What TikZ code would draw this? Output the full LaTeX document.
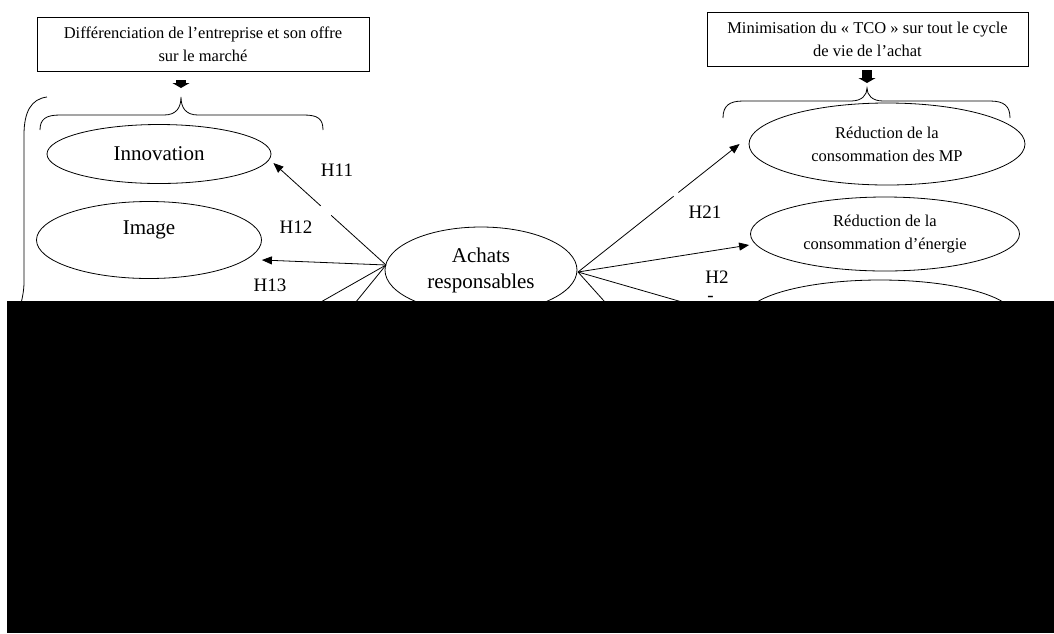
\documentclass[tikz,border=0pt]{standalone}
\usepackage{fontspec}
\setmainfont{Liberation Serif}
\usetikzlibrary{arrows.meta,shapes.geometric}

\begin{document}
\begin{tikzpicture}[x=1pt, y=-1pt, line width=0.8pt,
  bigtext/.style={font=\fontsize{21}{26}\selectfont},
  smalltext/.style={font=\fontsize{16.5}{23}\selectfont},
  hyptext/.style={font=\fontsize{19}{22}\selectfont},
  goalbox/.style={draw, smalltext, align=center, minimum height=54pt, inner sep=0pt},
  oval/.style={draw, ellipse, align=center, inner sep=0pt},
  hyparrow/.style={-{Triangle[length=10pt,width=8pt]}},
  blockarrow/.style={line width=10pt, -{Triangle[length=5pt,width=17pt]}}]
\useasboundingbox (0,0) rectangle (1054,633);
\node[goalbox, minimum width=332pt] (diff) at (203,44) {Différenciation de l’entreprise et son offre\\sur le marché};
\node[goalbox, minimum width=321pt] (tco) at (867.5,39) {Minimisation du «~TCO~» sur tout le cycle\\de vie de l’achat};
\coordinate (ltip) at (181,97);
\coordinate (rtip) at (867,88);
\draw[blockarrow, shorten <=9pt, shorten >=9pt] (ltip |- diff.south) -- (ltip);
\draw[blockarrow, shorten <=4pt, shorten >=5pt] (rtip |- tco.south) -- (rtip);
\draw (40,130) .. controls (40,119) and (46,115) .. (60,115) -- (164,115) .. controls (176,115) and (181,108) .. (ltip) .. controls (181,108) and (186,115) .. (198,115) -- (304,115) .. controls (318,115) and (323,119) .. (323,130);
\draw (723,118) .. controls (723,106) and (729,101) .. (743,101) -- (851,101) .. controls (862,101) and (867,95) .. (rtip) .. controls (867,95) and (872,101) .. (883,101) -- (990,101) .. controls (1004,101) and (1010,106) .. (1010,118);
\draw (47,97) .. controls (31,99) and (24,112) .. (24,135) -- (24,282) .. controls (24,292) and (22,300) .. (17,320);
\node[oval, bigtext, minimum width=224pt, minimum height=59pt] (innov) at (159,154) {Innovation};
\node[oval, bigtext, minimum width=225pt, minimum height=77pt] (image) at (149,240) {Image\\[-9pt]\strut};
\node[oval, bigtext, minimum width=192pt, minimum height=86pt] (achats) at (481,270) {Achats\\responsables};
\node[oval, smalltext, minimum width=276pt, minimum height=82pt] (mp) at (887,144) {Réduction de la\\consommation des MP};
\node[oval, smalltext, minimum width=269pt, minimum height=74pt] (energie) at (885,234) {Réduction de la\\consommation d’énergie};
\node[oval, minimum width=269pt, minimum height=74pt] (reduc3) at (880,317) {};
\coordinate (lhub) at (386,265);
\coordinate (rhub) at (578,272);
\coordinate (h13a) at (254,340);
\coordinate (h13b) at (325,340);
\coordinate (h22a) at (639,340);
\coordinate (h22b) at (814,340);
\draw[hyparrow, dash pattern=on 74pt off 14pt on 300pt] (lhub) -- ([xshift=2pt,yshift=-9pt]innov.east);
\draw[hyparrow] (lhub) -- ([yshift=-20pt]image.east);
\draw[hyparrow] (lhub) -- (h13a);
\draw[hyparrow] (lhub) -- (h13b);
\draw[hyparrow, dash pattern=on 122pt off 6pt on 300pt] (rhub) -- ([xshift=-9pt]mp.west);
\draw[hyparrow] (rhub) -- ([xshift=-1pt,yshift=-11pt]energie.west);
\draw[hyparrow] (rhub) -- (h22a);
\draw[hyparrow] (rhub) -- (h22b);
\node[hyptext] (h11) at (337,170) {H11};
\node[hyptext] (h12) at (296,227) {H12};
\node[hyptext] (h13) at (270,285) {H13};
\node[hyptext] (h21) at (705,212) {H21};
\node[hyptext, align=left, anchor=north west, inner sep=0pt] (h22) at (705,271) {H2\\[-4pt]\hspace*{2pt}-};
\fill (7,301) rectangle (1054,633);
\end{tikzpicture}
\end{document}
